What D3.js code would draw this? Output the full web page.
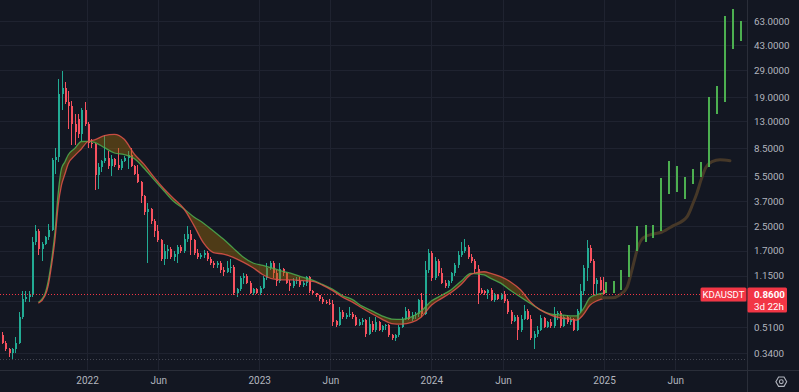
<!DOCTYPE html>
<html>
<head>
<meta charset="utf-8">
<script src="https://cdn.jsdelivr.net/npm/d3@7"></script>
<style>
  html, body { margin: 0; padding: 0; background: #131722; }
  svg { display: block; }
</style>
</head>
<body>
<svg id="chart"></svg>
<script>
// weekly KDAUSDT candles, first week opens 2021-07-05
const firstWeek = "2021-07-05";
const opens = [
  .45,.40,.36,.34,.36,.40,.60,.80,.82,.84,
  1.95,2.3,1.75,1.9,2.1,2.35,7.1,7.4,20,22,
  17.5,16.5,12.4,13.5,10.7,15.5,12.5,9.2,9.1,5.6,
  6.3,7.0,7.3,6.4,7.2,6.5,6.2,7.0,7.3,7.7,
  6.4,5.7,5.0,4.0,3.1,3.3,2.7,2.3,2.0,1.5,
  1.7,1.75,1.55,1.62,1.8,1.7,2.05,2.2,2.0,1.65,
  1.55,1.58,1.65,1.5,1.4,1.35,1.4,1.25,1.22,1.3,
  1.32,.88,.93,1.1,1.15,1.02,.88,.93,.87,.95,
  1.1,1.3,1.4,1.2,1.05,1.27,1.2,1.03,.98,1.05,
  1.06,.99,1.03,1.12,.9,.87,.84,.79,.76,.75,
  .74,.56,.53,.65,.6,.62,.63,.6,.53,.55,
  .57,.46,.54,.49,.55,.49,.52,.53,.45,.43,
  .45,.51,.58,.66,.58,.62,.63,.78,.63,1.25,
  1.65,1.1,1.45,1.2,1.02,.97,1.05,1.2,1.35,1.6,
  1.7,1.8,1.55,1.45,1.28,.92,.9,.87,.92,.78,
  .84,.8,.86,.77,.65,.56,.6,.49,.58,.66,
  .58,.43,.46,.49,.59,.51,.55,.52,.63,.64,
  .52,.6,.55,.58,.49,.66,.9,1.3,1.77,1.45,
  1.0,1.08,.92
];
const highs = [
  .47,.41,.37,.37,.44,.65,.90,.90,.90,2.1,
  2.55,2.4,1.95,2.15,2.6,7.3,8.6,25.5,28.5,24,
  21,18,14.5,14.5,16,17.6,12.8,9.8,9.3,6.8,
  7.1,10.5,8.2,7.6,7.3,8.5,7.2,7.5,8.1,8.5,
  6.5,6.5,5.1,4.1,3.6,3.35,2.8,2.55,2.05,1.9,
  1.85,1.8,1.7,1.85,1.85,2.2,2.5,2.35,2.05,1.75,
  1.65,1.72,1.7,1.55,1.45,1.45,1.45,1.32,1.45,1.5,
  1.35,.95,1.15,1.2,1.18,1.05,.95,.95,.97,1.15,
  1.4,1.45,1.45,1.25,1.4,1.3,1.22,1.07,1.1,1.12,
  1.12,1.06,1.15,1.14,.92,.88,.85,.82,.78,.8,
  .78,.57,.7,.67,.64,.7,.65,.62,.58,.59,
  .58,.6,.56,.6,.56,.53,.54,.54,.46,.46,
  .53,.6,.7,.68,.65,.65,.8,.88,1.45,1.75,
  1.7,1.55,1.5,1.3,1.08,1.08,1.22,1.4,1.7,1.96,
  2.03,1.85,1.62,1.5,1.35,.95,.92,.93,.94,.87,
  .86,.88,.9,.8,.67,.62,.62,.62,.72,.68,
  .62,.48,.52,.62,.6,.56,.58,.7,.66,.66,
  .62,.62,.6,.59,.68,1.0,1.35,2.0,1.85,1.5,
  1.1,1.12,1.12
];
const lows = [
  .39,.35,.32,.31,.34,.39,.58,.76,.76,.82,
  1.85,1.6,1.45,1.85,2.0,2.3,5.7,6.9,15.5,17,
  11.5,9,9,10,9.5,12,8.5,8.6,4.4,4.5,
  5.9,6.8,6.1,5.5,6.3,6.0,6.0,6.9,6.1,6.3,
  5.6,4.9,3.6,3.0,1.4,2.6,2.1,1.95,1.45,1.35,
  1.5,1.5,1.45,1.4,1.65,1.65,1.95,1.6,1.6,1.5,
  1.5,1.52,1.45,1.35,1.3,1.3,1.2,1.15,1.2,1.2,
  .85,.82,.9,1.0,1.0,.86,.85,.86,.85,.93,
  1.08,1.25,1.1,.98,1.02,1.15,1.0,.9,.95,1.0,
  .96,.96,.97,.88,.85,.82,.77,.74,.74,.72,
  .52,.51,.52,.58,.58,.6,.58,.52,.52,.53,
  .44,.45,.47,.47,.48,.47,.49,.44,.42,.41,
  .44,.5,.57,.57,.56,.58,.6,.6,.62,1.2,
  1.05,1.08,1.15,1.0,.94,.95,1.02,1.15,1.3,1.55,
  1.65,1.5,1.4,1.2,.74,.86,.85,.79,.77,.76,
  .78,.78,.75,.63,.54,.55,.42,.47,.57,.57,
  .42,.36,.44,.48,.5,.5,.5,.5,.57,.5,
  .51,.54,.53,.48,.48,.64,.85,1.05,1.4,.84,
  .84,.9,.85
];
const closes = [
  .40,.36,.34,.36,.40,.60,.80,.82,.84,1.95,
  2.3,1.75,1.9,2.1,2.35,7.1,7.4,20,22,17.5,
  16.5,12.4,11,10.7,15.5,12.5,9.2,9.1,5.6,6.3,
  7.0,7.3,6.4,7.2,6.5,6.2,7.0,7.3,7.7,6.4,
  5.7,5.0,4.0,3.1,3.3,2.7,2.3,2.0,1.5,1.7,
  1.75,1.55,1.62,1.8,1.7,2.05,2.2,2.0,1.65,1.55,
  1.58,1.65,1.5,1.4,1.35,1.4,1.25,1.22,1.3,1.32,
  .88,.93,1.1,1.15,1.02,.88,.93,.87,.95,1.1,
  1.3,1.4,1.2,1.05,1.27,1.2,1.03,.98,1.05,1.08,
  .99,1.03,1.12,.9,.87,.84,.79,.76,.75,.74,
  .55,.53,.65,.6,.62,.63,.6,.53,.55,.57,
  .46,.54,.49,.55,.49,.52,.53,.45,.43,.45,
  .51,.58,.66,.58,.62,.63,.78,.63,1.25,1.65,
  1.1,1.45,1.2,1.02,.97,1.05,1.2,1.35,1.6,1.7,
  1.8,1.55,1.45,1.28,.88,.88,.87,.92,.78,.84,
  .8,.86,.77,.65,.56,.6,.49,.58,.66,.58,
  .43,.46,.49,.59,.51,.55,.52,.63,.64,.52,
  .6,.55,.58,.49,.66,.9,1.3,1.77,1.45,1.0,
  1.08,.92,.86
];

// moving-average band (green / red), sampled at week numbers
const maWeeks = [11,13,14,15,16,17,18,19,20,22,24,26,28,31,34,37,40,43,46,49,52,55,58,61,64,67,70,73,76,79,82,85,88,91,94,97,100,103,106,109,112,115,118,121,124,127,130,133,136,139,142,144,146,148,151,154,157,160,163,166,169,172,174,176,178,180,182];
const maGreen = [.755,.865,1.06,1.47,2.26,4.22,6.2,6.86,7.66,8.5,9.47,9.5,9.35,8.6,7.9,7.7,7.24,6.22,5.2,4.36,3.68,3.29,2.9,2.62,2.32,2.04,1.77,1.54,1.40,1.35,1.29,1.23,1.18,1.12,1.07,1.0,.93,.84,.79,.71,.66,.61,.58,.577,.60,.66,.77,.84,.92,1.05,1.19,1.18,1.16,1.10,1.02,.91,.82,.74,.67,.63,.62,.61,.61,.68,.81,.85,.87];
const maRed = [.743,.836,.99,1.36,2.01,3.49,4.78,5.65,6.65,7.58,8.42,9.47,9.7,10.4,10.6,9.8,7.8,6.6,5.4,4.5,3.85,3.3,2.55,1.92,1.65,1.61,1.53,1.42,1.30,1.165,1.09,1.074,1.074,1.06,1.05,.99,.91,.82,.76,.69,.63,.58,.54,.535,.55,.60,.72,.80,.88,1.0,1.17,1.21,1.22,1.19,1.13,1.04,.92,.76,.67,.62,.59,.58,.57,.62,.72,.77,.80];

// 2025 bars and the brown curve drawn over them
const projDates = ["2025-01-06","2025-01-23","2025-02-07","2025-02-23","2025-03-13","2025-03-30","2025-04-15","2025-05-02","2025-05-19","2025-06-05","2025-06-21","2025-07-08","2025-07-25","2025-08-11","2025-08-28","2025-09-14","2025-10-01","2025-10-18"];
const projLow = [.88,.88,.92,1.12,1.68,1.96,2.07,2.32,4.13,4.3,3.82,4.86,5.39,6.37,14.5,17.7,40.4,46.2];
const projHigh = [1.045,1.06,1.26,1.86,2.51,2.55,2.55,5.36,6.97,6.44,5.45,6.15,6.86,19.2,22.7,68.5,75.7,63];
const trendDates = ["2024-12-30","2025-01-18","2025-02-04","2025-02-19","2025-03-03","2025-03-14","2025-03-25","2025-04-15","2025-05-04","2025-05-27","2025-06-26","2025-07-09","2025-07-17","2025-07-26","2025-08-05","2025-08-18","2025-09-04","2025-09-25"];
const trendValues = [.81,.81,.85,.96,1.32,1.80,2.08,2.21,2.28,2.51,2.90,3.6,4.2,5.2,6.3,6.9,7.1,7.0];

// axis ticks (0.77 only gets a grid line, its label sits under the price box)
const gridTicks = [63, 43, 29, 19, 13, 8.5, 5.5, 3.7, 2.5, 1.7, 1.15, 0.77, 0.51, 0.34];
const priceTicks = [63, 43, 29, 19, 13, 8.5, 5.5, 3.7, 2.5, 1.7, 1.15, 0.51, 0.34];
const timeTicks = ["2022-01-01","2022-06-01","2023-01-01","2023-06-01","2024-01-01","2024-06-01","2025-01-01","2025-06-01"];
const timeLabels = ["2022","Jun","2023","Jun","2024","Jun","2025","Jun"];
const lastPrice = 0.86;
const symbol = "KDAUSDT";
const countdown = "3d 22h";

const width = 799, height = 392;
const plotW = 747, plotH = 370;
const upColor = "#22ab94", downColor = "#f7525f";
const textColor = "#b2b5be";
const font = "Roboto, 'Liberation Sans', sans-serif";

const parse = d3.utcParse("%Y-%m-%d");
const start = parse(firstWeek);
const candles = opens.map((o, i) => ({
  date: d3.utcDay.offset(start, 7 * i), o: o, h: highs[i], l: lows[i], c: closes[i]
}));

const x = d3.scaleUtc()
  .domain([parse("2022-01-01"), parse("2025-01-01")])
  .range([87, 604]);
x.domain([x.invert(0), x.invert(plotW)]).range([0, plotW]);

const y = d3.scaleLog()
  .domain([0.34, 63])
  .range([353, 21]);

const svg = d3.select("#chart")
  .attr("width", width)
  .attr("height", height);

svg.append("rect").attr("width", width).attr("height", height).attr("fill", "#131722");

svg.append("defs").append("clipPath").attr("id", "clip")
  .append("rect").attr("width", plotW).attr("height", plotH);

const plot = svg.append("g").attr("clip-path", "url(#clip)");

// grid
plot.append("g").selectAll("line").data(gridTicks).join("line")
  .attr("x1", 0).attr("x2", plotW)
  .attr("y1", d => Math.round(y(d)) + 0.5).attr("y2", d => Math.round(y(d)) + 0.5)
  .attr("stroke", "#1f2330");
plot.append("g").selectAll("line").data(timeTicks).join("line")
  .attr("y1", 0).attr("y2", plotH)
  .attr("x1", d => Math.round(x(parse(d))) + 0.5).attr("x2", d => Math.round(x(parse(d))) + 0.5)
  .attr("stroke", "#1f2330");

// dotted bottom guide
plot.append("line")
  .attr("x1", 0).attr("x2", plotW).attr("y1", 359.5).attr("y2", 359.5)
  .attr("stroke", "#434651").attr("stroke-dasharray", "1,2");

// candles
const cg = plot.append("g").attr("shape-rendering", "crispEdges");
cg.selectAll("line").data(candles).join("line")
  .attr("x1", d => Math.round(x(d.date)) + 0.5)
  .attr("x2", d => Math.round(x(d.date)) + 0.5)
  .attr("y1", d => y(d.h))
  .attr("y2", d => y(d.l))
  .attr("stroke", d => d.c >= d.o ? upColor : downColor);
cg.selectAll("rect").data(candles).join("rect")
  .attr("x", d => Math.round(x(d.date)))
  .attr("width", 2)
  .attr("y", d => y(Math.max(d.o, d.c)))
  .attr("height", d => Math.max(1, y(Math.min(d.o, d.c)) - y(Math.max(d.o, d.c))))
  .attr("fill", d => d.c >= d.o ? upColor : downColor);

// moving average band
const maPts = maWeeks.map((w, i) => ({ date: candles[w].date, g: maGreen[i], r: maRed[i] }));
plot.append("path")
  .datum(maPts)
  .attr("fill", "rgba(160,110,10,0.42)")
  .attr("d", d3.area().curve(d3.curveMonotoneX)
    .x(d => x(d.date)).y0(d => y(d.r)).y1(d => y(d.g)));
plot.append("path")
  .datum(maPts)
  .attr("fill", "none").attr("stroke", "#4caf50").attr("stroke-width", 1.3).attr("stroke-opacity", 0.85)
  .attr("d", d3.line().curve(d3.curveMonotoneX).x(d => x(d.date)).y(d => y(d.g)));
plot.append("path")
  .datum(maPts)
  .attr("fill", "none").attr("stroke", "#e0524a").attr("stroke-width", 1.3).attr("stroke-opacity", 0.85)
  .attr("d", d3.line().curve(d3.curveMonotoneX).x(d => x(d.date)).y(d => y(d.r)));

// brown curve
const trend = trendDates.map((d, i) => ({ date: parse(d), v: trendValues[i] }));
plot.append("path")
  .datum(trend)
  .attr("fill", "none").attr("stroke", "#463828").attr("stroke-width", 3)
  .attr("stroke-linecap", "round").attr("stroke-linejoin", "round")
  .attr("d", d3.line().curve(d3.curveMonotoneX).x(d => x(d.date)).y(d => y(d.v)));

// 2025 green bars
const proj = projDates.map((d, i) => ({ date: parse(d), lo: projLow[i], hi: projHigh[i] }));
plot.append("g").attr("shape-rendering", "crispEdges")
  .selectAll("rect").data(proj).join("rect")
  .attr("x", d => Math.round(x(d.date)) - 1)
  .attr("width", 2)
  .attr("y", d => y(d.hi))
  .attr("height", d => y(d.lo) - y(d.hi))
  .attr("fill", "#4caf50");

// last price line
const py = Math.round(y(lastPrice)) + 0.5;
plot.append("line")
  .attr("x1", 0).attr("x2", plotW).attr("y1", py).attr("y2", py)
  .attr("stroke", "#f23645").attr("stroke-dasharray", "1,2");

// borders
svg.append("line").attr("x1", plotW + 0.5).attr("x2", plotW + 0.5).attr("y1", 0).attr("y2", height)
  .attr("stroke", "#2a2e39");
svg.append("line").attr("x1", 0).attr("x2", width).attr("y1", plotH + 0.5).attr("y2", plotH + 0.5)
  .attr("stroke", "#2a2e39");

// price axis
svg.append("g")
  .attr("transform", `translate(${plotW},0)`)
  .call(d3.axisRight(y).tickValues(priceTicks).tickFormat(d => d.toFixed(4)).tickSize(0).tickPadding(7))
  .call(g => g.select(".domain").remove())
  .attr("font-family", font).attr("font-size", 9.8)
  .selectAll("text").attr("fill", textColor);

// time axis
svg.append("g")
  .attr("transform", `translate(0,${plotH})`)
  .call(d3.axisBottom(x).tickValues(timeTicks.map(parse)).tickFormat((d, i) => timeLabels[i]).tickSize(0).tickPadding(7))
  .call(g => g.select(".domain").remove())
  .attr("font-family", font).attr("font-size", 10)
  .selectAll("text").attr("fill", textColor);

// price labels
svg.append("rect")
  .attr("x", 700.5).attr("y", py - 7).attr("width", 46).attr("height", 14).attr("rx", 1.5)
  .attr("fill", "#f23645");
svg.append("text")
  .attr("x", 723.5).attr("y", py + 3.5).attr("text-anchor", "middle")
  .attr("font-family", font).attr("font-size", 9.5).attr("fill", "#ffffff")
  .text(symbol);
svg.append("rect")
  .attr("x", plotW + 0.5).attr("y", py - 7).attr("width", 39.5).attr("height", 25).attr("rx", 1.5)
  .attr("fill", "#f23645");
svg.append("text")
  .attr("x", 754).attr("y", py + 3.5)
  .attr("font-family", font).attr("font-size", 9.8).attr("font-weight", "bold").attr("fill", "#ffffff")
  .text(lastPrice.toFixed(4));
svg.append("text")
  .attr("x", 754).attr("y", py + 15)
  .attr("font-family", font).attr("font-size", 9.8).attr("fill", "#ffffff")
  .text(countdown);

// settings icon
const icon = svg.append("g").attr("transform", "translate(781.3,381.7)")
  .attr("fill", "none").attr("stroke", textColor).attr("stroke-width", 1.1);
icon.append("path").attr("d", d3.line()(d3.range(6).map(k => [5.4 * Math.cos(k * Math.PI / 3), 5.4 * Math.sin(k * Math.PI / 3)])) + "Z");
icon.append("circle").attr("r", 1.9);
</script>
</body>
</html>
